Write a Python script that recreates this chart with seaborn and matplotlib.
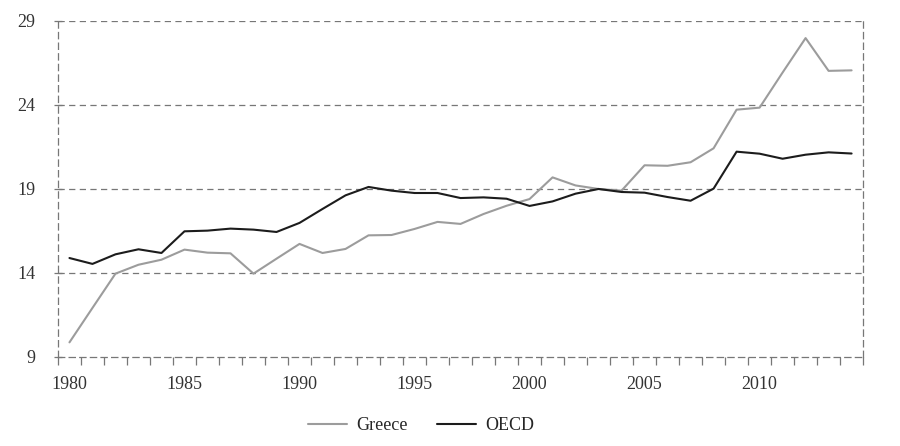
import matplotlib
matplotlib.use('Agg')
import matplotlib.pyplot as plt
import seaborn as sns
import pandas as pd
import numpy as np

years = list(range(1980, 2015))
greece = [9.87, 11.92, 13.96, 14.49, 14.79, 15.39, 15.21, 15.17, 13.96, 14.85,
          15.73, 15.19, 15.43, 16.24, 16.26, 16.62, 17.04, 16.92, 17.51, 18.00,
          18.40, 19.69, 19.21, 19.00, 18.90, 20.41, 20.38, 20.59, 21.42, 23.72,
          23.84, 25.93, 27.98, 26.03, 26.06]
oecd = [14.89, 14.54, 15.11, 15.41, 15.19, 16.48, 16.52, 16.64, 16.58, 16.44,
        16.98, 17.81, 18.62, 19.12, 18.90, 18.76, 18.76, 18.46, 18.50, 18.42,
        17.99, 18.26, 18.72, 19.00, 18.82, 18.78, 18.52, 18.30, 19.02, 21.22,
        21.10, 20.80, 21.04, 21.18, 21.11]
y_ticks = [9, 14, 19, 24, 29]
x_labels = [1980, 1985, 1990, 1995, 2000, 2005, 2010]

df = pd.concat([
    pd.DataFrame({'Year': years, 'Value': greece, 'Series': 'Greece'}),
    pd.DataFrame({'Year': years, 'Value': oecd, 'Series': 'OECD'}),
])

sns.set_style('white')
plt.rcParams['font.family'] = ['Liberation Serif', 'DejaVu Serif']

fig = plt.figure(figsize=(9, 4.46), dpi=100)
ax = fig.add_axes([0.0644, 0.1996, 0.8946, 0.7534])

sns.lineplot(ax=ax, data=df, x='Year', y='Value', hue='Series',
             palette={'Greece': '#9c9c9c', 'OECD': '#1c1c1c'}, linewidth=1.5)

grid_col = '#777777'
dash = (0, (5, 3.5))
ax.set_ylim(9, 29)
ax.set_xlim(1979.5, 2014.5)
ax.set_yticks(y_ticks)
ax.set_yticklabels([str(v) for v in y_ticks], fontsize=13, color='#333333')
for v in y_ticks[1:]:
    ax.axhline(v, color=grid_col, lw=0.9, ls=dash, zorder=0)

# year boundaries as small ticks, labels every five years
ax.set_xticks(np.arange(1979.5, 2015, 1.0), minor=True)
ax.set_xticks(x_labels)
ax.set_xticklabels([str(v) for v in x_labels], fontsize=13, color='#333333')
ax.tick_params(axis='x', which='major', bottom=True, length=0, pad=14)
ax.tick_params(axis='x', which='minor', bottom=True, length=6, width=0.9,
               color=grid_col, direction='out')
ax.tick_params(axis='y', left=True, length=6, width=0.9, color=grid_col,
               direction='inout', pad=13)

for side in ['left', 'right', 'bottom']:
    ax.spines[side].set_visible(True)
    ax.spines[side].set_color(grid_col)
    ax.spines[side].set_linewidth(0.9)
    ax.spines[side].set_linestyle(dash)
ax.spines['top'].set_visible(False)

ax.set_xlabel('')
ax.set_ylabel('')
handles, labels = ax.get_legend_handles_labels()
ax.legend(handles, labels, loc='upper center', bbox_to_anchor=(0.451, -0.13), ncol=2,
          frameon=False, fontsize=13, handlelength=2.2, handletextpad=0.5,
          columnspacing=1.6)

plt.savefig('out.png', dpi=100)
